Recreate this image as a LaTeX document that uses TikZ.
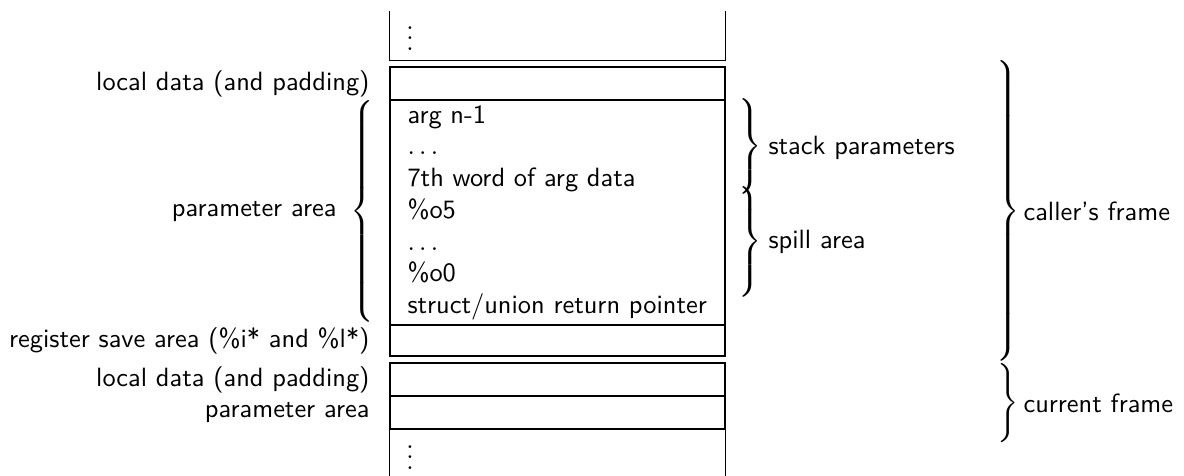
\documentclass[tikz,border=0pt]{standalone}
\delimiterfactor=1000
\delimitershortfall=0pt
\nulldelimiterspace=0pt
\tikzset{
  cell/.style={draw, line width=0.5pt, minimum width=126.9pt, inner sep=0pt},
  lbl/.style={font=\sffamily, inner sep=0pt},
  brc/.style={inner sep=0pt},
}
\newcommand\RBrace[1]{$\left.\vcenter{\hbox{\rule{0pt}{#1}}}\right\}$}
\newcommand\LBrace[1]{$\left\{\vcenter{\hbox{\rule{0pt}{#1}}}\right.$}
\begin{document}
\begin{tikzpicture}[x=0.37879pt,y=-0.37879pt]
\useasboundingbox (0,0) rectangle (1184,475);
% top open box
\node[inner sep=0pt, minimum width=126.9pt, minimum height=18.18pt] (topbox) at (557.5,36) {};
\draw[line width=0.5pt] (topbox.north west) -- (topbox.south west) -- (topbox.south east) -- (topbox.north east);
\node[anchor=base, inner sep=0pt] (topdots) at (410,50.5) {$\vdots$};
% boxes
\node[cell, minimum height=12.5pt] (loc1) at (557.5,83.5) {};
\node[cell, minimum height=85.23pt] (par) at (557.5,212.5) {};
\node[cell, minimum height=11.74pt] (reg) at (557.5,340.5) {};
\node[cell, minimum height=12.5pt] (loc2) at (557.5,379.5) {};
\node[cell, minimum height=12.5pt] (par2) at (557.5,412.5) {};
\node[inner sep=0pt, minimum width=126.9pt, minimum height=17.42pt] (botbox) at (557.5,452) {};
\draw[line width=0.5pt] (botbox.south west) -- (botbox.north west) -- (botbox.north east) -- (botbox.south east);
\node[anchor=base, inner sep=0pt] (botdots) at (410,469.5) {$\vdots$};
% parameter area contents
\foreach \t [count=\i] in {arg n-1, $\ldots$, 7th word of arg data, \%o5, $\ldots$, \%o0, struct/union return pointer}
  \node[lbl, anchor=base west] (l\i) at (407,{123.3+(\i-1)*31.68}) {\t};
% left labels
\node[lbl, anchor=east] (tloc1) at (370,83.5) {local data (and padding)};
\node[lbl, anchor=east] (treg) at (370,340.5) {register save area (\%i* and \%l*)};
\node[lbl, anchor=east] (tloc2) at (370,379.5) {local data (and padding)};
\node[lbl, anchor=east] (tpar2) at (370,412.5) {parameter area};
\node[lbl, anchor=east] (tpar) at (337,212) {parameter area};
% braces
\node[brc] (bpar) at (362.5,211.7) {\LBrace{83.3pt}};
\node[brc] (bstack) at (750.5,146.5) {\RBrace{35.2pt}};
\node[brc] (bspill) at (750.5,241.5) {\RBrace{36.7pt}};
\node[brc] (bcaller) at (1008.5,211) {\RBrace{109pt}};
\node[brc] (bcur) at (1008.5,403) {\RBrace{30pt}};
% right labels
\node[lbl, anchor=west] (tstack) at (768,148) {stack parameters};
\node[lbl, anchor=west] (tspill) at (768,242) {spill area};
\node[lbl, anchor=west] (tcaller) at (1023,211) {caller’s frame};
\node[lbl, anchor=west] (tcur) at (1023,403) {current frame};
\end{tikzpicture}
\end{document}
